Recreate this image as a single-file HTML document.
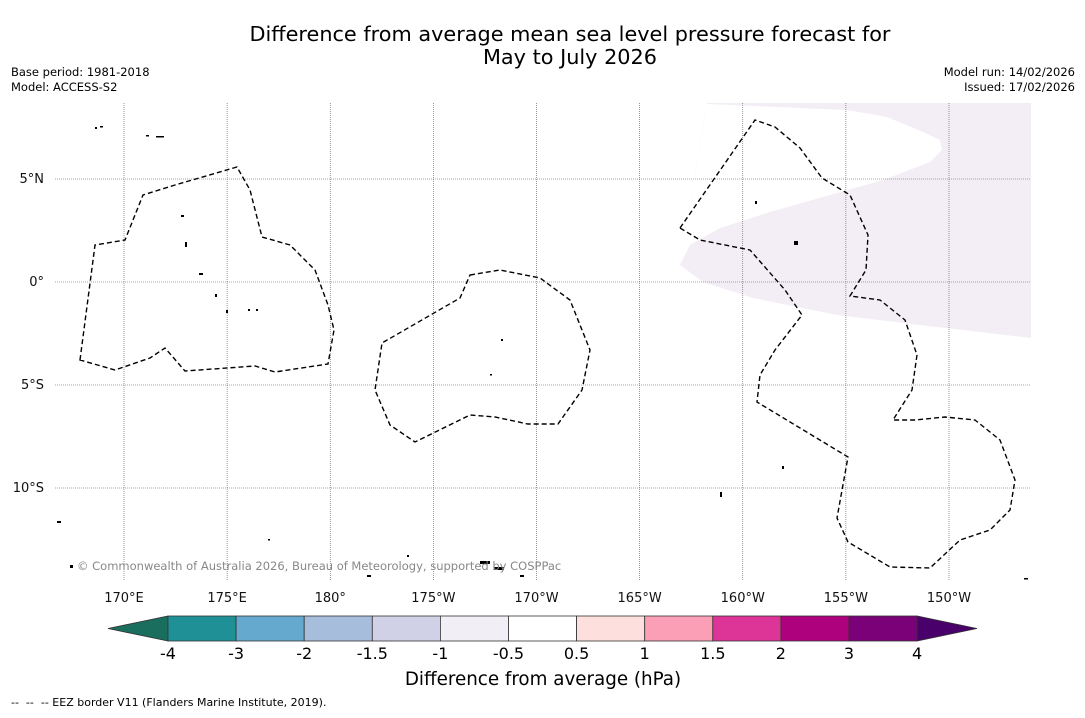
<!DOCTYPE html>
<html><head><meta charset="utf-8"><style>
body{margin:0;background:#fff;font-family:"Liberation Sans","DejaVu Sans",sans-serif;}
svg text{font-family:"DejaVu Sans","Liberation Sans",sans-serif;}
</style></head><body>
<svg width="1085" height="713" viewBox="0 0 1085 713">
<rect width="1085" height="713" fill="#fff"/>
<text x="570" y="41" font-size="20.8" text-anchor="middle">Difference from average mean sea level pressure forecast for</text>
<text x="570" y="64" font-size="20.8" text-anchor="middle">May to July 2026</text>
<text x="11" y="76" font-size="11.5">Base period: 1981-2018</text>
<text x="11" y="91" font-size="11.5">Model: ACCESS-S2</text>
<text x="1075" y="76" font-size="11.5" text-anchor="end">Model run: 14/02/2026</text>
<text x="1075" y="91" font-size="11.5" text-anchor="end">Issued: 17/02/2026</text>
<g id="map">
<path fill="#f3eef5" d="M707,103 L1031,103 L1031,338 L920,325 L837,315 L753,298 L703,282 L680,265 Z"/>
<path fill="#ffffff" d="M707,104 L847,110 L887,117 L923,132 L940,140 L942,150 L930,162 L883,180 L837,193 L770,212 L720,228 L690,245 L680,265 Z"/>
<g id="grid" stroke="#555" stroke-width="0.6" stroke-dasharray="1,1"></g>
<g fill="none" stroke="#000" stroke-width="1.4" stroke-dasharray="5,3">
<path d="M80,360 L95,245 L125,240 L143,195 L175,185 L237,167 L250,190 L262,237 L290,245 L315,270 L328,305 L334,330 L328,364 L275,372 L255,366 L185,371 L165,348 L150,358 L115,370 Z"/>
<path d="M470,275 L500,270 L540,278 L570,300 L590,350 L582,390 L558,424 L528,424 L495,417 L470,415 L415,442 L390,425 L375,390 L382,343 L460,298 Z"/>
<path d="M680,228 L755,120 L775,127 L800,148 L822,178 L850,195 L868,235 L866,270 L850,296 L880,300 L905,320 L917,355 L912,390 L893,420 L915,420 L945,417 L975,420 L1000,440 L1015,480 L1010,510 L990,530 L960,540 L930,568 L890,567 L848,542 L837,518 L848,457 L757,402 L760,375 L775,350 L802,315 L785,290 L750,250 L700,240 Z"/>
</g>
<g fill="#000">
<rect x="146" y="135" width="3" height="1.5"/><rect x="156" y="136" width="8" height="1.5"/><rect x="95" y="127" width="2" height="2"/><rect x="100" y="126" width="3" height="1.5"/><rect x="181" y="215" width="3" height="2"/><rect x="185" y="242" width="2" height="5"/><rect x="199" y="273" width="4" height="2"/><rect x="215" y="294" width="2" height="3"/><rect x="226" y="310" width="2" height="3"/><rect x="248" y="309" width="2" height="2"/><rect x="256" y="309" width="2" height="2"/><rect x="501" y="339" width="2" height="2"/><rect x="490" y="374" width="2" height="1.5"/><rect x="755" y="201" width="2" height="3"/><rect x="794" y="241" width="4" height="4"/><rect x="782" y="466" width="2" height="3"/><rect x="480" y="561" width="10" height="3"/><rect x="494" y="567" width="10" height="3"/><rect x="57" y="521" width="4" height="2"/><rect x="70" y="565" width="3" height="3"/><rect x="720" y="492" width="2" height="5"/><rect x="1024" y="578" width="4" height="1.5"/><rect x="407" y="555" width="2" height="2"/><rect x="268" y="539" width="2" height="1.5"/><rect x="367" y="575" width="4" height="2"/><rect x="520" y="575" width="4" height="2"/>
</g>
<g font-size="13" fill="#111" id="labels"></g>
<text x="77" y="570" font-size="11.5" fill="#888">© Commonwealth of Australia 2026, Bureau of Meteorology, supported by COSPPac</text>
</g>
<g id="cbar"></g>
<text x="543" y="685" font-size="18.3" text-anchor="middle">Difference from average (hPa)</text>
<text x="11" y="706" font-size="11" xml:space="preserve">--  --  -- EEZ border V11 (Flanders Marine Institute, 2019).</text>
</svg>
<script>
const lonLabels=["170°E","175°E","180°","175°W","170°W","165°W","160°W","155°W","150°W"];
const lonValues=[170,175,180,185,190,195,200,205,210];
const latLabels=["5°N","0°","5°S","10°S"];
const latValues=[5,0,-5,-10];
const cbarTicks=["-4","-3","-2","-1.5","-1","-0.5","0.5","1","1.5","2","3","4"];
const cbarColors=["#1f9196","#66a9cf","#a6bddb","#d0d1e6","#f1eef6","#ffffff","#fde0dd","#fa9fb5","#dd3497","#ae017e","#7a0177"];
const NS="http://www.w3.org/2000/svg";
const xOf=l=>124+(l-170)*20.625, yOf=a=>282-a*20.6;
const grid=document.getElementById('grid'),labels=document.getElementById('labels');
function mk(t,attrs,p){const e=document.createElementNS(NS,t);for(const k in attrs)e.setAttribute(k,attrs[k]);p.appendChild(e);return e;}
lonValues.forEach((v,i)=>{
 const l=mk('line',{x1:xOf(v),x2:xOf(v),y1:103,y2:580},grid);
 
 
 const t=mk('text',{x:xOf(v),y:602,'text-anchor':'middle'},labels);t.textContent=lonLabels[i];
 
 
});
latValues.forEach((v,i)=>{
 const l=mk('line',{x1:55,x2:1031,y1:yOf(v),y2:yOf(v)},grid);
 
 
 const t=mk('text',{x:44,y:yOf(v)+4,'text-anchor':'end'},labels);t.textContent=latLabels[i];
 
 
});
const cb=document.getElementById('cbar');
const x0=168,w=68.1,y0=616,h=25;
const lt=mk('polygon',{points:`${x0},${y0} ${x0},${y0+h} 108,${y0+h/2}`,fill:'#1a6e5e',stroke:'#333','stroke-width':0.8},cb);


cbarColors.forEach((c,i)=>{
 const r=mk('rect',{x:x0+i*w,y:y0,width:w,height:h,fill:c,stroke:'#333','stroke-width':0.8},cb);
 
 
});
const xe=x0+cbarColors.length*w;
const rt=mk('polygon',{points:`${xe},${y0} ${xe},${y0+h} 977,${y0+h/2}`,fill:'#49006a',stroke:'#333','stroke-width':0.8},cb);


cbarTicks.forEach((t,i)=>{
 const e=mk('text',{x:x0+i*w,y:659,'font-size':16,'text-anchor':'middle'},cb);e.textContent=t;
 
 
});
</script>
</body></html>
